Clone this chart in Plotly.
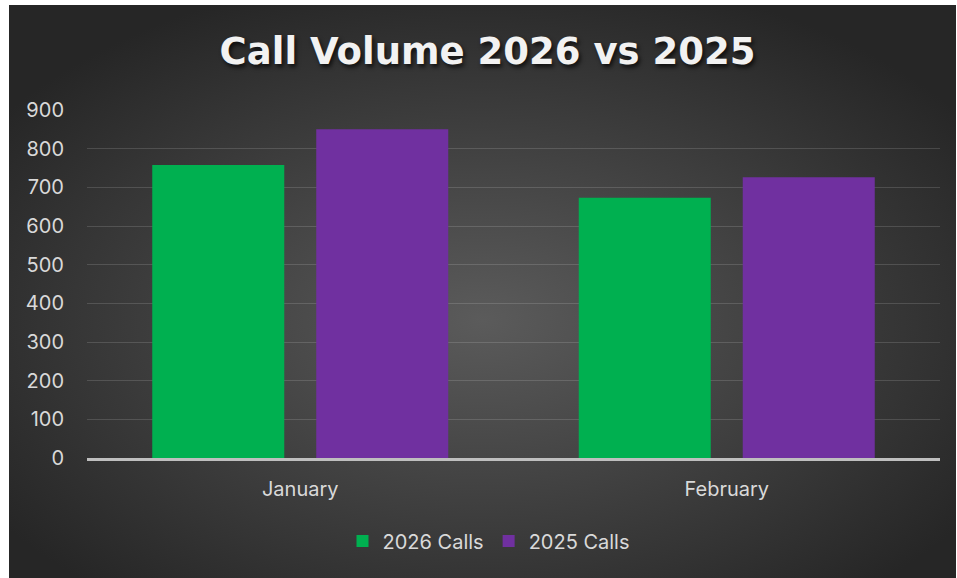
import base64
import plotly.graph_objects as go

categories = ["January", "February"]
calls_2026 = [758, 673]
calls_2025 = [850, 726]
y_ticks = [0, 100, 200, 300, 400, 500, 600, 700, 800, 900]

W, H = 957, 578
L, R, T, B = 87, 17, 110, 120
pw, ph = W - L - R, H - T - B

svg = f'''<svg xmlns="http://www.w3.org/2000/svg" width="947" height="573" viewBox="0 0 947 573" preserveAspectRatio="none">
<defs><radialGradient id="g" cx="50%" cy="55%" r="62%" fx="50%" fy="55%">
<stop offset="0%" stop-color="#5b5b5b"/><stop offset="100%" stop-color="#262626"/></radialGradient></defs>
<rect x="0" y="0" width="947" height="573" fill="url(#g)"/></svg>'''
src = "data:image/svg+xml;base64," + base64.b64encode(svg.encode()).decode()

font_family = "Inter, Open Sans, sans-serif"
fig = go.Figure()
fig.add_trace(go.Bar(x=categories, y=calls_2026, name="2026 Calls",
                     marker=dict(color="#00b050", line=dict(width=0))))
fig.add_trace(go.Bar(x=categories, y=calls_2025, name="2025 Calls",
                     marker=dict(color="#7030a0", line=dict(width=0))))

fig.update_layout(
    width=W, height=H,
    margin=dict(l=L, r=R, t=T, b=B, pad=0),
    paper_bgcolor="white",
    plot_bgcolor="rgba(0,0,0,0)",
    barmode="group",
    bargap=0.231,
    bargroupgap=0.195,
    title=dict(
        text="<b>Call Volume 2026 vs 2025</b>",
        x=(215 + 760) / 2 / W, xanchor="center",
        y=1 - 51 / H, yanchor="middle",
        font=dict(family="DejaVu Sans, sans-serif", size=37, color="#f2f2f2",
                  shadow="2px 3px 4px rgba(0,0,0,0.7)"),
    ),
    images=[dict(
        source=src, xref="paper", yref="paper",
        x=(9 - L) / pw, y=(H - B - 5) / ph,
        sizex=947 / pw, sizey=573 / ph,
        xanchor="left", yanchor="top", sizing="stretch", layer="below",
    )],
    legend=dict(
        orientation="h", x=(489 - L) / pw, xanchor="center",
        y=(H - B - 541) / ph, yanchor="middle",
        font=dict(family=font_family, size=20, color="#d9d9d9"),
        bgcolor="rgba(0,0,0,0)", itemwidth=30, tracegroupgap=0,
    ),
    showlegend=True,
)
fig.update_yaxes(
    range=[0, 900], tickvals=y_ticks,
    showgrid=True, gridcolor="rgba(255,255,255,0.14)", gridwidth=1,
    zeroline=False, showline=False,
    tickfont=dict(family=font_family, size=20, color="#d9d9d9"),
    ticklabelstandoff=22,
)
fig.update_xaxes(
    showline=True, linecolor="#bfbfbf", linewidth=2.5,
    showgrid=False,
    tickfont=dict(family=font_family, size=20, color="#d9d9d9"),
    ticklabelstandoff=11,
)
fig.write_html("out.html", config={"displayModeBar": False},
               post_script="document.body.style.margin='0';document.body.style.padding='0';")
